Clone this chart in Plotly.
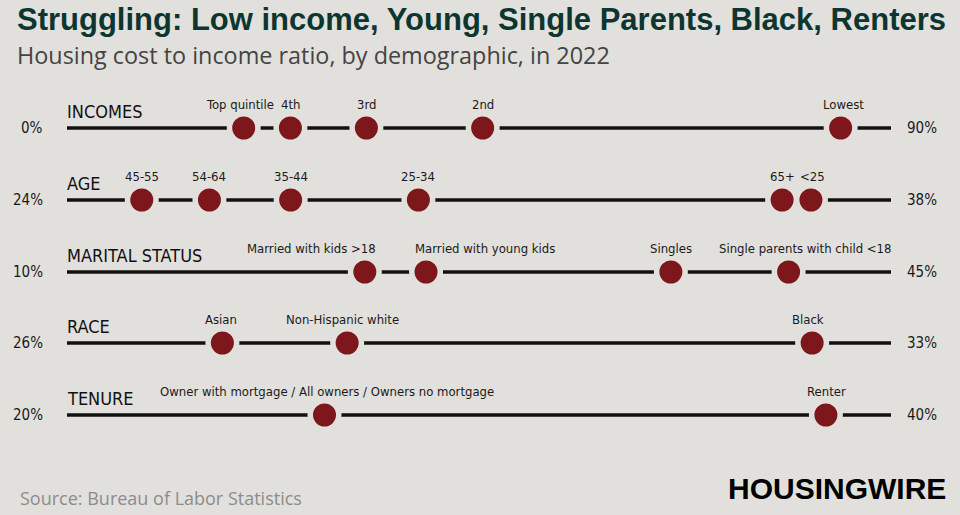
import plotly.graph_objects as go

# ---------------- data ----------------
groups = ["INCOMES", "AGE", "MARITAL STATUS", "RACE", "TENURE"]
range_low = [0, 24, 10, 26, 20]
range_high = [90, 38, 45, 33, 40]

incomes_labels = ["Top quintile", "4th", "3rd", "2nd", "Lowest"]
incomes_values = [19.3, 24.4, 32.7, 45.4, 84.5]

age_labels = ["45-55", "54-64", "35-44", "25-34", "65+", "<25"]
age_values = [25.27, 26.42, 27.8, 29.97, 36.15, 36.64]

marital_labels = ["Married with kids >18", "Married with young kids", "Singles",
                  "Single parents with child <18"]
marital_values = [22.65, 25.25, 35.65, 40.65]

race_labels = ["Asian", "Non-Hispanic white", "Black"]
race_values = [27.32, 28.38, 32.33]

tenure_labels = ["Owner with mortgage / All owners / Owners no mortgage", "Renter"]
tenure_values = [26.25, 38.42]

series_labels = [incomes_labels, age_labels, marital_labels, race_labels, tenure_labels]
series_values = [incomes_values, age_values, marital_values, race_values, tenure_values]

# ---------------- styling / layout ----------------
W, H = 960, 515
BG = "#e2e0dc"
DOT = "#7d171b"
LINE = "#111111"
NARROW = "Liberation Sans Narrow, DejaVu Sans Condensed, Roboto Condensed, Arial Narrow, sans-serif"
X0, X1 = 67, 891
row_y = [128, 200, 272, 343, 415]
# horizontal label nudges (pixels) so labels do not collide
label_shift = [
    [-4, 0, 0, 0, 3],
    [0, 0, 0, 0, 0, 2],
    [-53, 59, 0, 17],
    [-1, -5, -4],
    [2, 1],
]

fig = go.Figure()
annotations = []

for i, (g, lo, hi, labs, vals) in enumerate(zip(groups, range_low, range_high,
                                                series_labels, series_values)):
    xa = "x" if i == 0 else f"x{i+1}"
    ry = row_y[i]
    fig.add_trace(go.Scatter(
        x=[lo, hi], y=[ry, ry], xaxis=xa, yaxis="y", mode="lines",
        line=dict(color=LINE, width=3.6), hoverinfo="skip", showlegend=False,
        cliponaxis=False))
    fig.add_trace(go.Scatter(
        x=vals, y=[ry] * len(vals), xaxis=xa, yaxis="y", mode="markers",
        marker=dict(color=DOT, size=28.5, line=dict(color=BG, width=5.5)),
        text=labs, hovertemplate="%{text}: %{x}%<extra></extra>",
        cliponaxis=False, showlegend=False))
    for lab, v, sh in zip(labs, vals, label_shift[i]):
        annotations.append(dict(
            x=v, y=ry - 24, xref=xa, yref="y", text=lab, showarrow=False,
            xanchor="center", yanchor="middle", xshift=sh,
            font=dict(family=NARROW, size=13, color="#1a1a1a")))
    # group name
    annotations.append(dict(
        x=X0 / W, y=ry - 17, xref="paper", yref="y", text=g, showarrow=False,
        xanchor="left", yanchor="middle", xshift=-2,
        font=dict(family=NARROW, size=18, color="#111111")))
    # range labels
    annotations.append(dict(
        x=45 / W, y=ry, xref="paper", yref="y", text=f"{lo}%", showarrow=False,
        xanchor="right", yanchor="middle",
        font=dict(family=NARROW, size=15, color="#1a1a1a")))
    annotations.append(dict(
        x=905 / W, y=ry, xref="paper", yref="y", text=f"{hi}%", showarrow=False,
        xanchor="left", yanchor="middle",
        font=dict(family=NARROW, size=15, color="#1a1a1a")))

# title, subtitle, source, logo
annotations += [
    dict(x=15 / W, y=19, xref="paper", yref="y", xanchor="left", yanchor="middle",
         text="<b>Struggling: Low income, Young, Single Parents, Black, Renters</b>",
         showarrow=False, font=dict(family="Liberation Sans, Arial, sans-serif", size=31,
                                    color="#0d3630")),
    dict(x=15 / W, y=55, xref="paper", yref="y", xanchor="left", yanchor="middle",
         text="Housing cost to income ratio, by demographic, in 2022",
         showarrow=False, font=dict(family="Open Sans, sans-serif", size=23.4,
                                    color="#444444")),
    dict(x=18 / W, y=498, xref="paper", yref="y", xanchor="left", yanchor="middle",
         text="Source: Bureau of Labor Statistics",
         showarrow=False, font=dict(family="Open Sans, sans-serif", size=18,
                                    color="#8c8c8c")),
    dict(x=948 / W, y=488, xref="paper", yref="y", xanchor="right", yanchor="middle",
         text="<b>HOUSINGWIRE</b>",
         showarrow=False, font=dict(family="Liberation Sans, Arial, sans-serif", size=30,
                                    color="#000000")),
]

layout = dict(
    width=W, height=H, margin=dict(l=0, r=0, t=0, b=0),
    paper_bgcolor=BG, plot_bgcolor="rgba(0,0,0,0)", showlegend=False,
    yaxis=dict(range=[H, 0], domain=[0, 1], visible=False, fixedrange=True),
    annotations=annotations,
)
for i, (lo, hi) in enumerate(zip(range_low, range_high)):
    key = "xaxis" if i == 0 else f"xaxis{i+1}"
    ax = dict(domain=[X0 / W, X1 / W], range=[lo, hi], visible=False,
              anchor="y", fixedrange=True)
    if i > 0:
        ax["overlaying"] = "x"
    layout[key] = ax
fig.update_layout(**layout)
fig.write_html(
    "out.html",
    config={"displayModeBar": False},
    post_script="document.body.style.margin='0';document.body.style.overflow='hidden';",
)
